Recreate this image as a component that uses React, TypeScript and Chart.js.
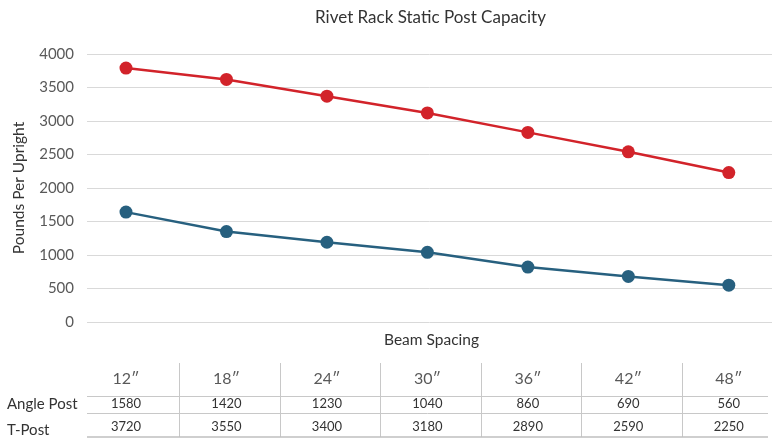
import React, { useEffect, useRef } from "react";
import { Chart, registerables } from "chart.js";

Chart.register(...registerables);

const chartTitle = "Rivet Rack Static Post Capacity";
const xAxisTitle = "Beam Spacing";
const yAxisTitle = "Pounds Per Upright";
const categories = ["12″", "18″", "24″", "30″", "36″", "42″", "48″"];
const seriesNames = ["Angle Post", "T-Post"];
const anglePostValues = [1640, 1350, 1190, 1040, 820, 680, 550];
const tPostValues = [3790, 3620, 3370, 3120, 2830, 2540, 2230];
const anglePostTable = ["1580", "1420", "1230", "1040", "860", "690", "560"];
const tPostTable = ["3720", "3550", "3400", "3180", "2890", "2590", "2250"];
const yMin = 0;
const yMax = 4000;
const yStep = 500;

const BLUE = "#27607f";
const RED = "#d2232a";
const FONT = "Lato, 'Open Sans', sans-serif";

const tablePlugin = {
  id: "tablePlugin",
  afterDraw(chart: any) {
    const ctx = chart.ctx;
    const x = chart.scales.x;
    const area = chart.chartArea;
    ctx.save();
    // Title
    ctx.fillStyle = "#333333";
    ctx.font = `17px ${FONT}`;
    ctx.textAlign = "center";
    ctx.textBaseline = "middle";
    ctx.fillText(chartTitle, (area.left + area.right) / 2 + 1, 18);
    // x axis title
    ctx.font = `15.5px ${FONT}`;
    ctx.fillStyle = "#333333";
    ctx.fillText(xAxisTitle, (area.left + area.right) / 2 + 2, 340);

    // table lines
    const tLeft = area.left;
    const tRight = area.right - 4;
    const topY = 363;
    const row1 = 396;
    const row2 = 413;
    const bottom = 437;
    ctx.strokeStyle = "#c8c8c8";
    ctx.lineWidth = 1;
    ctx.beginPath();
    [row1, row2].forEach((yy) => {
      ctx.moveTo(tLeft, yy + 0.5);
      ctx.lineTo(tRight, yy + 0.5);
    });
    for (let i = 0; i < categories.length - 1; i++) {
      const bx = Math.round((x.getPixelForValue(i) + x.getPixelForValue(i + 1)) / 2 + 3) + 0.5;
      ctx.moveTo(bx, topY);
      ctx.lineTo(bx, bottom);
    }
    ctx.stroke();
    ctx.strokeStyle = "#bfbfbf";
    ctx.lineWidth = 1.5;
    ctx.beginPath();
    ctx.moveTo(tLeft, bottom);
    ctx.lineTo(tRight, bottom);
    ctx.stroke();

    // headers
    ctx.fillStyle = "#595959";
    ctx.font = `16px ${FONT}`;
    categories.forEach((c, i) => {
      ctx.fillText(c, x.getPixelForValue(i), 379);
    });
    ctx.fillStyle = "#333333";
    ctx.font = `13px ${FONT}`;
    anglePostTable.forEach((v, i) => {
      ctx.fillText(v, x.getPixelForValue(i), 404);
    });
    tPostTable.forEach((v, i) => {
      ctx.fillText(v, x.getPixelForValue(i), 427);
    });
    // row labels
    ctx.textAlign = "left";
    ctx.font = `15px ${FONT}`;
    ctx.fillStyle = "#333333";
    ctx.fillText(seriesNames[0], 7, 404);
    ctx.fillText(seriesNames[1], 7, 430);
    ctx.restore();
  },
};

export default function App() {
  const ref = useRef<HTMLCanvasElement | null>(null);
  useEffect(() => {
    document.body.style.margin = "0";
    const canvas = ref.current;
    if (!canvas) return;
    const chart = new Chart(canvas, {
      type: "line",
      data: {
        datasets: [
          {
            label: seriesNames[0],
            data: anglePostValues.map((v, i) => ({ x: i, y: v })),
            borderColor: BLUE,
            backgroundColor: BLUE,
            pointBackgroundColor: BLUE,
            pointBorderColor: BLUE,
            pointRadius: 6.5,
            pointBorderWidth: 0,
            borderWidth: 2.5,
            tension: 0,
          },
          {
            label: seriesNames[1],
            data: tPostValues.map((v, i) => ({ x: i, y: v })),
            borderColor: RED,
            backgroundColor: RED,
            pointBackgroundColor: RED,
            pointBorderColor: RED,
            pointRadius: 6.5,
            pointBorderWidth: 0,
            borderWidth: 2.5,
            tension: 0,
          },
        ],
      },
      options: {
        animation: false,
        responsive: false,
        maintainAspectRatio: false,
        layout: { padding: { left: 0, top: 54, right: 8, bottom: 116 } },
        plugins: {
          legend: { display: false },
          title: { display: false },
          tooltip: { enabled: false },
        },
        scales: {
          x: {
            type: "linear",
            display: false,
            min: -0.388,
            max: 6.43,
          },
          y: {
            min: yMin,
            max: yMax,
            border: { display: false },
            grid: { color: "#d9d9d9", lineWidth: 1, drawTicks: false },
            ticks: {
              stepSize: yStep,
              padding: 13,
              color: "#595959",
              font: { family: FONT, size: 15 },
              callback: (v: any) => String(v),
            },
            title: {
              display: true,
              text: yAxisTitle,
              color: "#333333",
              font: { family: FONT, size: 15.5 },
              padding: { top: 10, bottom: 0 },
            },
            afterFit(scale: any) {
              scale.width = 87;
            },
          },
        },
      },
      plugins: [tablePlugin],
    });
    return () => chart.destroy();
  }, []);
  return (
    <div style={{ position: "fixed", left: 0, top: 0, width: 780, height: 438 }}>
      <canvas ref={ref} width={780} height={438} style={{ display: "block" }} />
    </div>
  );
}
